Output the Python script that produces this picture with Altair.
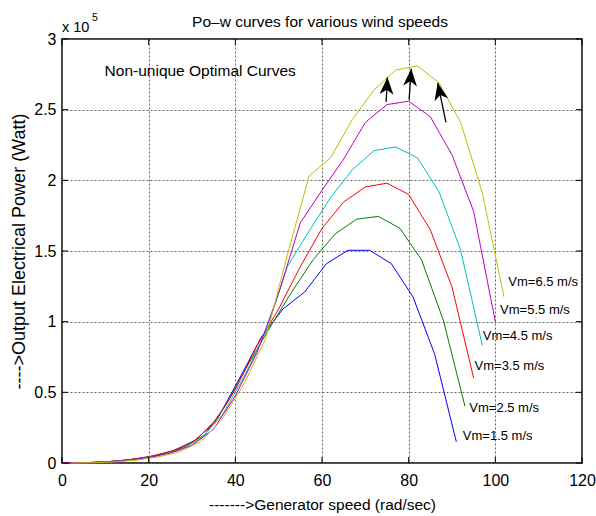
import altair as alt
import pandas as pd

FONT = "Liberation Sans"

# Generator speed samples (rad/sec) and output power (x 1e5 W) per wind speed
x_15 = [1, 6, 11, 16, 21, 26, 31, 36, 41, 46, 51, 56, 61, 66, 71, 76, 81, 86, 91]
p_15 = [0, 0.003, 0.01, 0.025, 0.05, 0.09, 0.165, 0.32, 0.60, 0.89, 1.09, 1.21, 1.41, 1.505, 1.505, 1.41, 1.175, 0.77, 0.15]

x_25 = [3, 8, 13, 18, 23, 28, 33, 38, 43, 48, 53, 58, 63, 68, 73, 78, 83, 88, 93]
p_25 = [0, 0.005, 0.015, 0.032, 0.06, 0.11, 0.20, 0.42, 0.70, 0.96, 1.21, 1.44, 1.62, 1.725, 1.745, 1.66, 1.435, 1.01, 0.40]

x_35 = [0, 5, 10, 15, 20, 25, 30, 35, 40, 45, 50, 55, 60, 65, 70, 75, 80, 85, 90, 95]
p_35 = [0, 0.002, 0.008, 0.021, 0.043, 0.08, 0.145, 0.275, 0.52, 0.83, 1.09, 1.39, 1.66, 1.847, 1.953, 1.98, 1.90, 1.65, 1.245, 0.60]

x_45 = [2, 7, 12, 17, 22, 27, 32, 37, 42, 47, 52, 57, 62, 67, 72, 77, 82, 87, 92, 97]
p_45 = [0, 0.003, 0.01, 0.024, 0.05, 0.09, 0.17, 0.34, 0.61, 0.92, 1.39, 1.64, 1.88, 2.075, 2.21, 2.236, 2.16, 1.92, 1.505, 0.83]

x_55 = [0, 5, 10, 15, 20, 25, 30, 35, 40, 45, 50, 55, 60, 65, 70, 75, 80, 85, 90, 95, 100]
p_55 = [0, 0.002, 0.007, 0.019, 0.038, 0.07, 0.125, 0.24, 0.475, 0.78, 1.2, 1.70, 1.93, 2.15, 2.41, 2.536, 2.56, 2.45, 2.18, 1.78, 1.0]

x_65 = [2, 7, 12, 17, 22, 27, 32, 37, 42, 47, 52, 57, 62, 67, 72, 77, 82, 87, 92, 97, 102]
p_65 = [0, 0.002, 0.008, 0.02, 0.042, 0.078, 0.15, 0.31, 0.56, 0.88, 1.47, 2.03, 2.16, 2.43, 2.64, 2.78, 2.81, 2.69, 2.41, 1.91, 1.175]

series_names = ["1.5", "2.5", "3.5", "4.5", "5.5", "6.5"]
series_colors = ["#0000ff", "#008000", "#ff0000", "#00bfbf", "#bf00bf", "#bfbf00"]

# Curve labels
label_text = ["Vm=6.5 m/s", "Vm=5.5 m/s", "Vm=4.5 m/s", "Vm=3.5 m/s", "Vm=2.5 m/s", "Vm=1.5 m/s"]
label_x = [103.0, 101.1, 97.1, 95.2, 94.0, 92.5]
label_p = [1.251, 1.057, 0.873, 0.661, 0.361, 0.161]

# Arrows (tail -> tip)
arrow_tail_x = [74.8, 80.1, 88.6]
arrow_tail_p = [2.555, 2.57, 2.41]
arrow_tip_x = [75.1, 80.6, 86.7]
arrow_tip_p = [2.73, 2.79, 2.69]
arrow_angle = [3, 4, 348]

x_ticks = [0, 20, 40, 60, 80, 100, 120]
y_ticks = [0, 0.5, 1, 1.5, 2, 2.5, 3]

W, H = 520, 424

rows = []
for name, xs_, ps_ in zip(series_names,
                          [x_15, x_25, x_35, x_45, x_55, x_65],
                          [p_15, p_25, p_35, p_45, p_55, p_65]):
    for a, b in zip(xs_, ps_):
        rows.append({"series": name, "x": a, "p": b})
df = pd.DataFrame(rows)

xscale = alt.Scale(domain=[0, 120], nice=False, zero=False)
yscale = alt.Scale(domain=[0, 3], nice=False, zero=False)

xaxis = alt.Axis(values=x_ticks, format="d", title="------->Generator speed (rad/sec)",
                 labelFlush=False, labelOverlap=False, ticks=False, domain=False,
                 grid=True, gridDash=[2, 2], gridColor="#666666", gridWidth=1,
                 labelFont=FONT, labelFontSize=16, labelColor="black", labelPadding=9,
                 titleFont=FONT, titleFontSize=15.5, titleFontWeight="normal",
                 titleColor="black", titlePadding=9)
yaxis = alt.Axis(values=y_ticks, format=".1~f", title="---->Output Electrical Power (Watt)",
                 labelFlush=False, labelOverlap=False, ticks=False, domain=False,
                 grid=True, gridDash=[2, 2], gridColor="#666666", gridWidth=1,
                 labelFont=FONT, labelFontSize=16, labelColor="black", labelPadding=6,
                 titleFont=FONT, titleFontSize=18, titleFontWeight="normal",
                 titleColor="black", titlePadding=5)

lines = alt.Chart(df).mark_line(strokeWidth=1).encode(
    x=alt.X("x:Q", scale=xscale, axis=xaxis),
    y=alt.Y("p:Q", scale=yscale, axis=yaxis),
    color=alt.Color("series:N", scale=alt.Scale(domain=series_names, range=series_colors), legend=None),
    order=alt.Order("x:Q"),
)

lab_df = pd.DataFrame({"x": label_x, "p": label_p, "t": label_text})
labels = alt.Chart(lab_df).mark_text(align="left", baseline="alphabetic", font=FONT,
                                     fontSize=13, color="black").encode(
    x="x:Q", y="p:Q", text="t:N")

note_df = pd.DataFrame({"x": [9.83], "p": [2.737], "t": ["Non-unique Optimal Curves"]})
note = alt.Chart(note_df).mark_text(align="left", baseline="alphabetic", font=FONT,
                                    fontSize=15.5, color="black").encode(
    x="x:Q", y="p:Q", text="t:N")

arr_df = pd.DataFrame({"x": arrow_tail_x, "p": arrow_tail_p,
                       "x2": arrow_tip_x, "p2": arrow_tip_p,
                       "tx": arrow_tip_x, "tp": arrow_tip_p, "ang": arrow_angle})
shafts = alt.Chart(arr_df).mark_rule(color="black", strokeWidth=1.3).encode(
    x="x:Q", y="p:Q", x2="x2:Q", y2="p2:Q")
heads = alt.Chart(arr_df).mark_point(shape="M0,0 L0.8,2 L0,1.45 L-0.8,2 Z", filled=True,
                                     color="black", opacity=1, size=300).encode(
    x=alt.X("tx:Q"), y=alt.Y("tp:Q"), angle=alt.Angle("ang:Q", scale=None))

xt_df = pd.DataFrame({"x": x_ticks})
yt_df = pd.DataFrame({"p": y_ticks})
tick_b = alt.Chart(xt_df).mark_rule(color="black", strokeWidth=1).encode(
    x="x:Q", y=alt.value(H), y2=alt.value(H - 6))
tick_t = alt.Chart(xt_df).mark_rule(color="black", strokeWidth=1).encode(
    x="x:Q", y=alt.value(0), y2=alt.value(6))
tick_l = alt.Chart(yt_df).mark_rule(color="black", strokeWidth=1).encode(
    y="p:Q", x=alt.value(0), x2=alt.value(6))
tick_r = alt.Chart(yt_df).mark_rule(color="black", strokeWidth=1).encode(
    y="p:Q", x=alt.value(W), x2=alt.value(W - 6))

txt = pd.DataFrame({"t": ["Po\u2013w curves for various wind speeds"]})
title = alt.Chart(txt).mark_text(align="center", baseline="alphabetic", font=FONT,
                                 fontSize=15.5, color="black").encode(
    x=alt.value(258), y=alt.value(-12), text="t:N")
mult = alt.Chart(pd.DataFrame({"t": ["x 10"]})).mark_text(
    align="left", baseline="alphabetic", font=FONT, fontSize=14.5, color="black").encode(
    x=alt.value(0), y=alt.value(-7), text="t:N")
mult_exp = alt.Chart(pd.DataFrame({"t": ["5"]})).mark_text(
    align="left", baseline="alphabetic", font=FONT, fontSize=10.5, color="black").encode(
    x=alt.value(30), y=alt.value(-18.5), text="t:N")

chart = alt.layer(lines, tick_b, tick_t, tick_l, tick_r, labels, note, shafts, heads,
                  title, mult, mult_exp).properties(
    width=W, height=H,
    autosize=alt.AutoSizeParams(type="none"),
    padding={"left": 62, "top": 39, "right": 14, "bottom": 53},
    background="white",
).configure_view(stroke="black", strokeWidth=1.5)

chart.save("out.html", embed_options={"renderer": "svg", "actions": False})
